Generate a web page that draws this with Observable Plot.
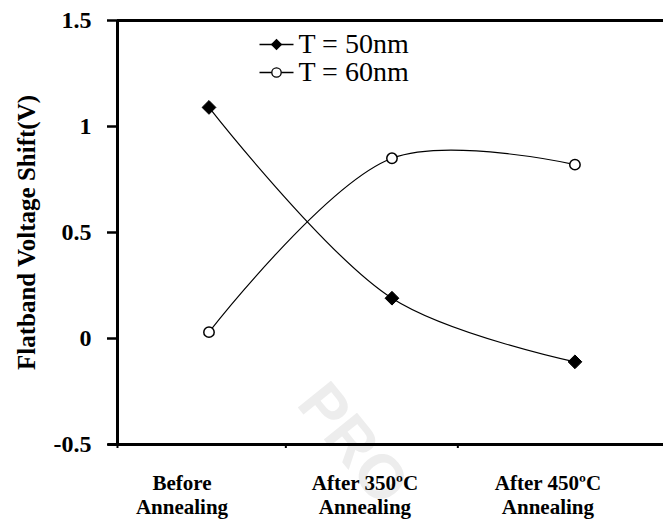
<!DOCTYPE html>
<html>
<head>
<meta charset="utf-8">
<script src="https://cdn.jsdelivr.net/npm/d3@7"></script>
<script src="https://cdn.jsdelivr.net/npm/@observablehq/plot@0.6"></script>
<style>
  html, body { margin: 0; padding: 0; background: white; }
</style>
</head>
<body>
<div id="chart"></div>
<script>
const categories = ["Before\nAnnealing", "After 350ºC\nAnnealing", "After 450ºC\nAnnealing"];
const t50 = [1.09, 0.19, -0.11];
const t60 = [0.03, 0.85, 0.82];
const yTicks = [-0.5, 0, 0.5, 1, 1.5];
const xTickMarks = [-0.5, 0.42, 1.36];
const seriesNames = ["T = 50nm", "T = 60nm"];
const yTitle = "Flatband Voltage Shift(V)";
const watermark = "PRO";

const rows50 = categories.map((c, i) => ({i, v: t50[i]}));
const rows60 = categories.map((c, i) => ({i, v: t60[i]}));
const catRows = categories.map((c, i) => ({i, label: c}));

const lineSymbol = { draw(ctx) { ctx.moveTo(-17, 0); ctx.lineTo(17, 0); } };

const chart = Plot.plot({
  width: 663,
  height: 520,
  marginLeft: 117,
  marginRight: 0,
  marginTop: 20,
  marginBottom: 76,
  style: {fontFamily: "'Liberation Serif', 'Times New Roman', serif", fontSize: "22px", fontWeight: "bold", background: "white", color: "black", overflow: "visible"},
  x: {domain: [-0.5, 2.484], axis: null},
  y: {domain: [-0.5, 1.5], axis: null},
  marks: [
    Plot.text([watermark], {frameAnchor: "top-left", dx: 212, dy: 356, text: d => d, rotate: 51, textAnchor: "start", fontSize: 62, fontFamily: "'Liberation Sans', sans-serif", fill: "#ededed", fontWeight: "bold", letterSpacing: "22px"}),
    Plot.axisY({ticks: yTicks, tickSize: 10, tickPadding: 16, tickFormat: d => String(d), label: null, strokeWidth: 2.5, fontSize: 24}),
    Plot.axisX({ticks: xTickMarks, tickSize: 4, tickFormat: () => "", label: null, strokeWidth: 2, anchor: "bottom"}),
    Plot.ruleY([1.5], {strokeWidth: 3}),
    Plot.ruleY([-0.5], {strokeWidth: 3, x1: -0.55, x2: 2.484}),
    Plot.ruleX([-0.5], {strokeWidth: 3}),
    Plot.line(rows50, {x: "i", y: "v", curve: "catmull-rom", stroke: "black", strokeWidth: 1.2}),
    Plot.line(rows60, {x: "i", y: "v", curve: "catmull-rom", stroke: "black", strokeWidth: 1.2}),
    Plot.dot(rows50, {x: "i", y: "v", symbol: "diamond2", r: 6.2, fill: "black", stroke: "black", strokeWidth: 1}),
    Plot.dot(rows60, {x: "i", y: "v", symbol: "circle", r: 5.2, fill: "white", stroke: "black", strokeWidth: 1.5}),
    Plot.text(catRows, {x: "i", y: -0.5, text: "label", dx: -27, dy: 29, lineAnchor: "top", lineHeight: 1.13, textAnchor: "middle", fontSize: 21}),
    Plot.text([yTitle], {frameAnchor: "left", text: d => d, rotate: -90, dx: -91, textAnchor: "middle", fontSize: 25}),
    // legend
    Plot.dot([seriesNames[0]], {frameAnchor: "top-left", dx: 159, dy: 24, symbol: lineSymbol, stroke: "black", strokeWidth: 1.4, fill: "none"}),
    Plot.dot([seriesNames[0]], {frameAnchor: "top-left", dx: 159, dy: 24, symbol: "diamond2", r: 5.2, fill: "black"}),
    Plot.text([seriesNames[0]], {frameAnchor: "top-left", dx: 181, dy: 24, text: d => d, textAnchor: "start", lineAnchor: "middle", fontWeight: "normal", fontSize: 28}),
    Plot.dot([seriesNames[1]], {frameAnchor: "top-left", dx: 159, dy: 52, symbol: lineSymbol, stroke: "black", strokeWidth: 1.3, fill: "none"}),
    Plot.dot([seriesNames[1]], {frameAnchor: "top-left", dx: 159, dy: 52, symbol: "circle", r: 4.7, fill: "white", stroke: "black", strokeWidth: 1.3}),
    Plot.text([seriesNames[1]], {frameAnchor: "top-left", dx: 181, dy: 52, text: d => d, textAnchor: "start", lineAnchor: "middle", fontWeight: "normal", fontSize: 28})
  ]
});
document.getElementById("chart").appendChild(chart);
</script>
</body>
</html>
